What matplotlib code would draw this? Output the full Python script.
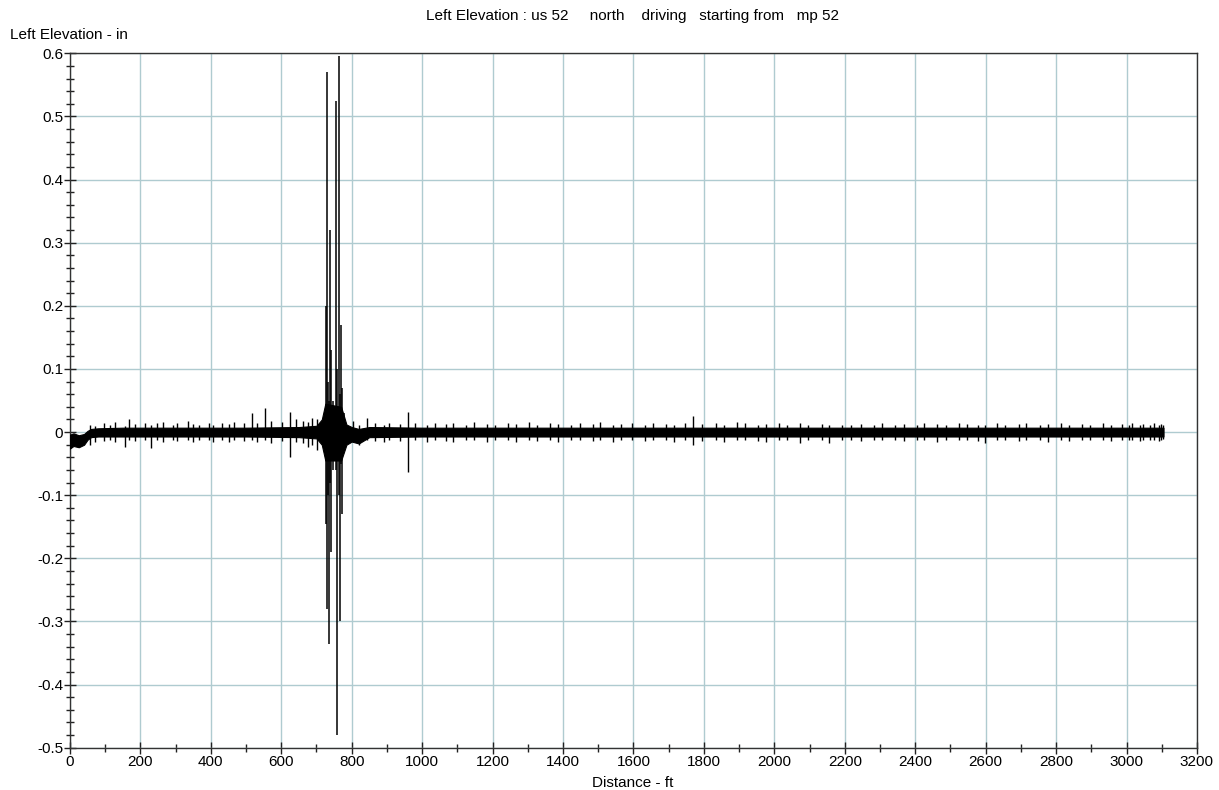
import matplotlib

matplotlib.use("Agg")

import matplotlib.pyplot as plt
from matplotlib.ticker import MultipleLocator


plt.rcParams["font.family"] = ["Liberation Sans", "DejaVu Sans"]

TITLE = "Left Elevation : us 52     north    driving   starting from   mp 52"

# core noise band (ft, in)
band_x = [0, 10, 25, 40, 50, 60, 80, 150, 300, 500, 650, 700, 715, 725,
          770, 785, 800, 820, 850, 1000, 1500, 2000, 2500, 3000, 3105]
band_hi = [-0.004, -0.002, -0.005, -0.003, 0.002, 0.005, 0.006, 0.007, 0.007, 0.007, 0.008, 0.010, 0.020, 0.045,
           0.040, 0.012, 0.008, 0.005, 0.008, 0.007, 0.007, 0.007, 0.007, 0.007, 0.007]
band_lo = [-0.026, -0.022, -0.024, -0.020, -0.012, -0.008, -0.007, -0.007, -0.007, -0.007, -0.008, -0.010, -0.020, -0.045,
           -0.045, -0.020, -0.015, -0.018, -0.008, -0.007, -0.007, -0.007, -0.007, -0.007, -0.007]

# small spikes along the band
tick_x = [
    58, 72, 98, 113, 127, 156, 168, 186, 214, 229,
    246, 263, 292, 305, 334, 348, 366, 395, 407, 433,
    452, 466, 494, 517, 531, 554, 571, 603, 625, 641,
    663, 677, 688, 701, 803, 820, 843, 866, 893, 907,
    938, 960, 981, 1013, 1036, 1069, 1087, 1124, 1146, 1183,
    1207, 1244, 1266, 1303, 1327, 1364, 1386, 1424, 1447, 1484,
    1506, 1543, 1566, 1597, 1634, 1656, 1693, 1716, 1747, 1770,
    1796, 1834, 1857, 1893, 1916, 1954, 1977, 2013, 2036, 2074,
    2097, 2134, 2156, 2193, 2217, 2246, 2284, 2306, 2343, 2367,
    2404, 2426, 2463, 2487, 2523, 2546, 2577, 2598, 2633, 2656,
    2694, 2716, 2753, 2777, 2814, 2836, 2873, 2896, 2933, 2957,
    2986, 3008, 3017, 3038, 3046, 3068, 3077, 3092, 3099, 3104,
]
tick_top = [
    0.012, 0.010, 0.014, 0.012, 0.016, 0.010, 0.020, 0.013, 0.015, 0.012,
    0.014, 0.016, 0.012, 0.015, 0.018, 0.013, 0.012, 0.014, 0.012, 0.015,
    0.013, 0.016, 0.014, 0.030, 0.015, 0.038, 0.018, 0.016, 0.032, 0.020,
    0.018, 0.016, 0.022, 0.020, 0.018, 0.012, 0.022, 0.014, 0.012, 0.015,
    0.013, 0.032, 0.014, 0.012, 0.015, 0.013, 0.014, 0.012, 0.016, 0.013,
    0.012, 0.014, 0.013, 0.016, 0.012, 0.015, 0.013, 0.012, 0.014, 0.013,
    0.016, 0.012, 0.013, 0.014, 0.012, 0.015, 0.013, 0.012, 0.014, 0.025,
    0.013, 0.014, 0.012, 0.016, 0.014, 0.012, 0.013, 0.015, 0.012, 0.014,
    0.012, 0.013, 0.012, 0.011, 0.012, 0.013, 0.012, 0.014, 0.012, 0.013,
    0.012, 0.014, 0.013, 0.012, 0.015, 0.013, 0.012, 0.011, 0.014, 0.012,
    0.013, 0.015, 0.012, 0.013, 0.014, 0.012, 0.013, 0.012, 0.014, 0.012,
    0.013, 0.012, 0.014, 0.012, 0.013, 0.012, 0.014, 0.012, 0.013, 0.011,
]
tick_bottom = [
    -0.020, -0.016, -0.014, -0.013, -0.015, -0.023, -0.012, -0.014, -0.013, -0.025,
    -0.013, -0.015, -0.012, -0.014, -0.013, -0.016, -0.012, -0.013, -0.015, -0.012,
    -0.016, -0.013, -0.014, -0.012, -0.015, -0.013, -0.018, -0.014, -0.039, -0.016,
    -0.018, -0.023, -0.020, -0.028, -0.016, -0.021, -0.012, -0.014, -0.015, -0.013,
    -0.014, -0.064, -0.013, -0.015, -0.012, -0.014, -0.016, -0.013, -0.012, -0.015,
    -0.013, -0.012, -0.015, -0.013, -0.014, -0.012, -0.016, -0.013, -0.012, -0.014,
    -0.012, -0.015, -0.013, -0.012, -0.014, -0.013, -0.012, -0.015, -0.013, -0.020,
    -0.014, -0.012, -0.016, -0.013, -0.012, -0.014, -0.015, -0.012, -0.013, -0.017,
    -0.013, -0.012, -0.017, -0.012, -0.013, -0.014, -0.012, -0.013, -0.012, -0.014,
    -0.012, -0.013, -0.015, -0.012, -0.013, -0.012, -0.014, -0.018, -0.012, -0.013,
    -0.014, -0.012, -0.013, -0.015, -0.012, -0.014, -0.013, -0.012, -0.013, -0.014,
    -0.012, -0.013, -0.012, -0.014, -0.012, -0.013, -0.012, -0.014, -0.012, -0.011,
]

# the large event around 730-775 ft
spike_x = [726, 730, 733, 736, 738, 741, 747, 755, 759, 764, 767, 770, 773, 777]
spike_top = [0.20, 0.57, 0.08, 0.05, 0.32, 0.13, 0.05, 0.525, 0.10, 0.595, 0.06, 0.17, 0.07, 0.03]
spike_bottom = [-0.145, -0.28, -0.10, -0.335, -0.08, -0.19, -0.06, -0.06, -0.48, -0.10, -0.30, -0.05, -0.13, -0.03]


fig = plt.figure(figsize=(12.19, 7.90), dpi=100)
ax = fig.add_axes([0.0574, 0.0535, 0.9245, 0.879])

ax.fill_between(band_x, band_lo, band_hi, color="black", linewidth=0.8, zorder=3)
ax.vlines(tick_x, tick_bottom, tick_top, color="black", linewidth=1.0, zorder=3)
ax.vlines(spike_x, spike_bottom, spike_top, color="black", linewidth=1.1, zorder=3)

ax.set_xlim(0, 3200)
ax.set_ylim(-0.5, 0.6)
ax.xaxis.set_major_locator(MultipleLocator(200))
ax.xaxis.set_minor_locator(MultipleLocator(100))
ax.yaxis.set_major_locator(MultipleLocator(0.1))
ax.yaxis.set_minor_locator(MultipleLocator(0.02))
ax.yaxis.set_major_formatter(lambda v, pos: f"{v:g}" if abs(v) > 1e-9 else "0")

ax.grid(which="major", color="#AFCBD0", linewidth=1.0, zorder=0)
ax.set_axisbelow(True)

ax.tick_params(which="major", direction="inout", length=8, width=1, colors="#222222",
               labelsize=11, labelcolor="black", pad=1)
ax.tick_params(which="minor", direction="inout", length=6, width=1, colors="#222222")
for side in ["left", "bottom", "top", "right"]:
    ax.spines[side].set_color("#333333")
    ax.spines[side].set_linewidth(1.0)

fig.text(0.519, 0.989, TITLE, ha="center", va="top", fontsize=11)
fig.text(0.008, 0.965, "Left Elevation - in", ha="left", va="top", fontsize=11)
fig.text(0.519, 0.0, "Distance - ft", ha="center", va="bottom", fontsize=11)

fig.savefig("out.png", dpi=100)
plt.close(fig)
